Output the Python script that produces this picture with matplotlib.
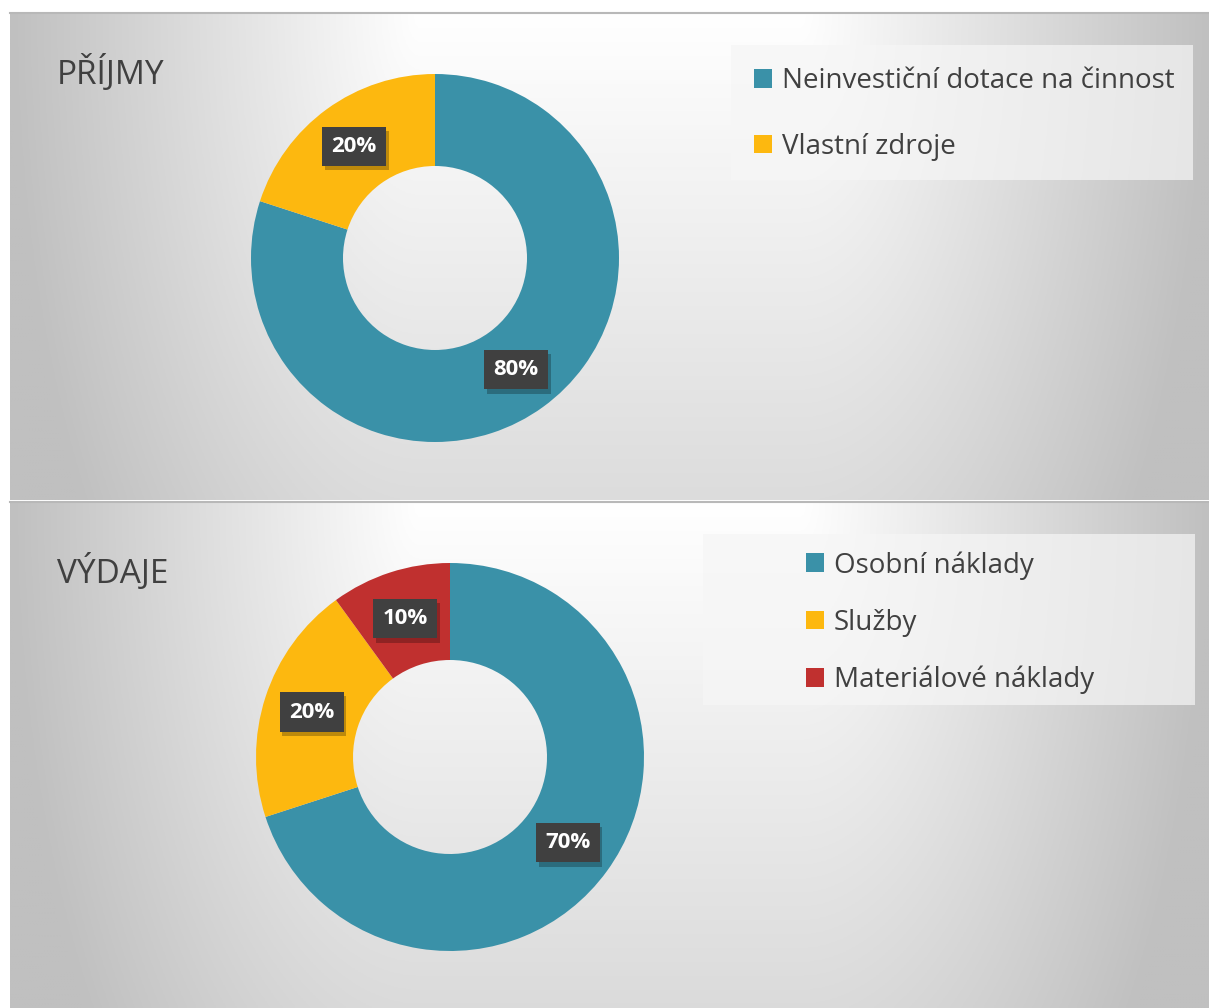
import matplotlib.pyplot as plt
import matplotlib.patches as mpatches
import matplotlib.patheffects as pe
import numpy as np

plt.rcParams['font.family'] = ['Open Sans', 'DejaVu Sans']

# data
prijmy_labels = ['Neinvestiční dotace na činnost', 'Vlastní zdroje']
prijmy_values = [80, 20]
vydaje_labels = ['Osobní náklady', 'Služby', 'Materiálové náklady']
vydaje_values = [70, 20, 10]
titles = ['PŘÍJMY', 'VÝDAJE']

teal = '#3a91a8'
yellow = '#fdb80f'
red = '#c0302f'
txt = '#404040'

W, H = 1209, 1008
fig = plt.figure(figsize=(W / 100, H / 100), dpi=100)
fig.patch.set_facecolor('white')

# background panels (pixel coords)
bg = fig.add_axes([0, 0, 1, 1])
bg.axis('off')


def panel(y0, y1):
    x0, x1 = 10, W
    xs = np.linspace(x0, x1, 400)
    ys = np.linspace(y0, y1, 200)
    X, Y = np.meshgrid(xs, ys)
    fx = np.clip((np.abs(X - 610) - 190) / 410, 0, 1)
    fy = np.clip((Y - y0) / 880, 0, 1)
    f = np.clip(np.sqrt(fx ** 2 + fy ** 2), 0, 1)
    v = (255 - 63 * f) / 255
    img = np.dstack([v, v, v])
    bg.imshow(img, extent=[x0, x1, y1, y0], aspect='auto', zorder=0)
    bg.plot([x0, x1], [y0, y0], color='#b8b8b8', lw=1.5, zorder=1)


panel(13, 500)
panel(502, H)
bg.set_xlim(0, W)
bg.set_ylim(H, 0)

# legend backgrounds
bg.add_patch(mpatches.Rectangle((731, 45), 462, 135, facecolor='#f6f6f6',
                                alpha=0.7, edgecolor='none', zorder=2))
bg.add_patch(mpatches.Rectangle((703, 534), 492, 171, facecolor='#f6f6f6',
                                alpha=0.7, edgecolor='none', zorder=2))

bg.text(57, 84, titles[0], fontsize=24, color=txt, va='baseline', ha='left', zorder=3)
bg.text(57, 583, titles[1], fontsize=24, color=txt, va='baseline', ha='left', zorder=3)


def donut(cx, cy, r, values, colors):
    ax = fig.add_axes([(cx - r) / W, (H - cy - r) / H, 2 * r / W, 2 * r / H])
    wedges, _ = ax.pie(values, colors=colors, startangle=90, counterclock=False,
                       radius=1, wedgeprops=dict(width=0.5, edgecolor='none'))
    ax.set_xlim(-1, 1)
    ax.set_ylim(-1, 1)
    ax.set_aspect('equal')
    for w, v in zip(wedges, values):
        a = np.deg2rad((w.theta1 + w.theta2) / 2)
        t = ax.text(0.75 * np.cos(a), 0.75 * np.sin(a), f'{v}%', ha='center',
                    va='center', fontsize=16, fontweight='bold', color='white',
                    bbox=dict(boxstyle='square,pad=0.42', facecolor='#404040',
                              edgecolor='none'))
        t.get_bbox_patch().set_path_effects(
            [pe.SimplePatchShadow(offset=(2, -3), shadow_rgbFace='black', alpha=0.25),
             pe.Normal()])
    return ax, wedges


ax1, w1 = donut(435, 258, 184, prijmy_values, [teal, yellow])
ax2, w2 = donut(450, 757, 194, vydaje_values, [teal, yellow, red])

fig.legend(w1, prijmy_labels, loc='upper left', bbox_to_anchor=(729 / W, 1 - 42 / H),
           frameon=False, fontsize=20, labelcolor=txt, handlelength=0.65,
           handleheight=0.65, handletextpad=0.35, labelspacing=1.36)
fig.legend(w2, vydaje_labels, loc='upper left', bbox_to_anchor=(781 / W, 1 - 526 / H),
           frameon=False, fontsize=20, labelcolor=txt, handlelength=0.65,
           handleheight=0.65, handletextpad=0.35, labelspacing=1.05)

fig.savefig('out.png', dpi=100)
